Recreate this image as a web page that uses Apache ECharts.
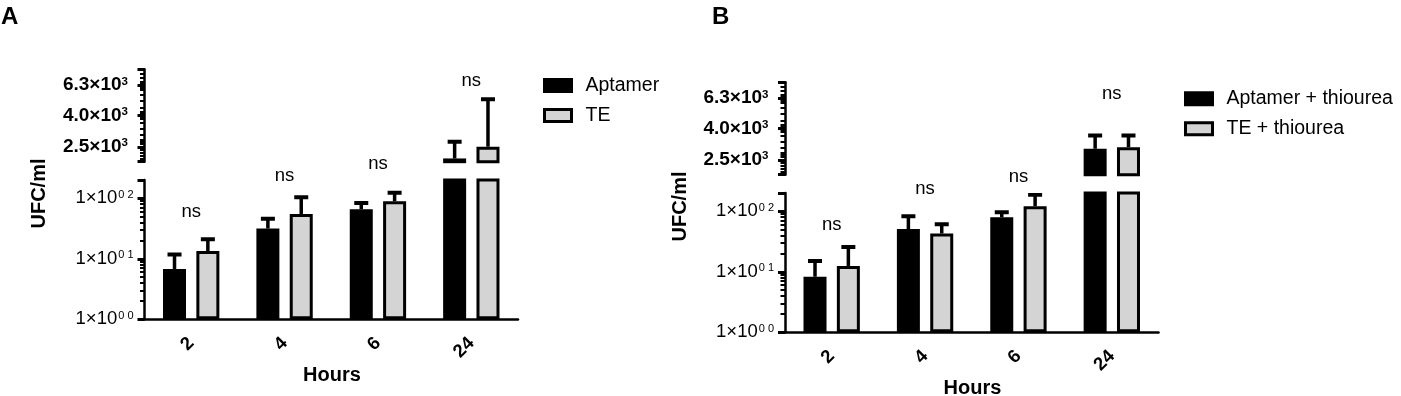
<!DOCTYPE html>
<html><head><meta charset="utf-8">
<script src="https://cdn.jsdelivr.net/npm/echarts@6/dist/echarts.min.js"></script>
<style>html,body{margin:0;padding:0;background:#fff}#c{width:1401px;height:396px}</style>
</head><body><div id="c"></div>
<script>
// ---------- data ----------
const categories = ['2', '4', '6', '24'];
// Panel A (means and error-bar tops, UFC/ml)
const aptamerA    = [6.8, 31.6, 66, 2100];
const aptamerAErr = [11.8, 46, 83, 2700];
const teA         = [13.4, 54.7, 89, 2500];
const teAErr      = [21, 104, 123, 5100];
// Panel B
const aptamerB    = [8.3, 50.7, 79.4, 2950];
const aptamerBErr = [15, 82.5, 96, 3600];
const teB         = [12.4, 43, 121, 3020];
const teBErr      = [25.7, 61, 187, 3600];
// "ns" annotation heights (data units)
const nsLevels = [60, 230, 370, 6700];
// axis segments
const lowerRange = [1, 200];
const upperRange = [2000, 8000];
const lowerTickValues = [1, 10, 100];
const lowerTickSup = ['0 0', '0 1', '0 2'];
const lowerMinorTicks = [2, 3, 4, 5, 6, 7, 8, 9, 20, 30, 40, 50, 60, 70, 80, 90];
const upperTickValues = [2500, 4000, 6300];
const upperTickMantissa = ['2.5', '4.0', '6.3'];
const upperMinorTicks = [2100, 2200, 2300, 2400, 2600, 2700, 2800, 3000, 3300, 3600, 3800, 3900, 4100, 4200, 4500, 5000, 5500, 5900, 6000, 6100, 6200, 6400, 6500, 6600, 7000, 7500];
const legendA = ['Aptamer', 'TE'];
const legendB = ['Aptamer + thiourea', 'TE + thiourea'];

// ---------- style / layout ----------
const FONT = '"Liberation Sans", Arial, sans-serif';
const COLORS = ['#000000', '#d4d4d4'];
const BAR_W = 23, BAR_GAP = 0.45;
const HALF_PITCH = (BAR_W + BAR_W * BAR_GAP) / 2;
const AXIS_X = 144.5, AXIS_W = 373.5;
const LOWER_TOP = 180, LOWER_H = 139.3, UPPER_TOP = 69.3, UPPER_H = 92.4;

const panels = [
  { names: legendA, vals: [aptamerA, teA], errs: [aptamerAErr, teAErr], dx: 0, dy: 0, letter: 'A', letterX: 1,
    legendLeft: 543, legendTop: 75.5 },
  { names: legendB, vals: [aptamerB, teB], errs: [aptamerBErr, teBErr], dx: 640.5, dy: 13, letter: 'B', letterX: 712,
    legendLeft: 1184, legendTop: 88.7 }
];

function idxOf(list, v) {
  for (let i = 0; i < list.length; i++) {
    if (Math.abs(Math.log10(v) - Math.log10(list[i])) < 1e-4) return i;
  }
  return -1;
}

const grid = [], xAxis = [], yAxis = [], series = [], legend = [], graphic = [];
const minorAxes = [];

panels.forEach((p, pi) => {
  [0, 1].forEach(seg => {
    const g = pi * 2 + seg;
    const lower = seg === 0;
    grid.push({
      left: AXIS_X + p.dx, width: AXIS_W,
      top: (lower ? LOWER_TOP : UPPER_TOP) + p.dy,
      height: lower ? LOWER_H : UPPER_H
    });
    xAxis.push({
      type: 'category', gridIndex: g, data: categories, show: lower,
      axisLine: { onZero: false, lineStyle: { color: '#000', width: 2.5 } },
      axisTick: { alignWithLabel: true, length: 7, lineStyle: { color: '#000', width: 2.5 } },
      axisLabel: { rotate: 45, margin: 21, fontSize: 18.5, fontWeight: 'bold', color: '#000', fontFamily: FONT },
      splitLine: { show: false }
    });
    const range = lower ? lowerRange : upperRange;
    yAxis.push({
      type: 'log', logBase: 10, gridIndex: g, position: 'left',
      min: range[0], max: range[1],
      axisLine: { show: true, onZero: false, lineStyle: { color: '#000', width: 2.5 } },
      axisTick: {
        show: true, length: 7, lineStyle: { color: '#000', width: 3 },
        customValues: lower ? lowerTickValues.concat([lowerRange[1]]) : upperTickValues.concat(upperRange)
      },
      axisLabel: {
        show: true,
        customValues: lower ? lowerTickValues : upperTickValues,
        margin: lower ? 11 : 16.5,
        formatter: v => {
          if (lower) {
            const i = idxOf(lowerTickValues, v);
            return i < 0 ? '' : '{m|1×10}{s|' + lowerTickSup[i] + '}';
          }
          const i = idxOf(upperTickValues, v);
          return i < 0 ? '' : '{m|' + upperTickMantissa[i] + '×10}{s|3}';
        },
        rich: lower ? {
          m: { fontSize: 18.5, fontFamily: FONT, color: '#000', lineHeight: 18 },
          s: { fontSize: 11, fontFamily: FONT, color: '#000', verticalAlign: 'top', lineHeight: 11, padding: [0, 0, 0, 1] }
        } : {
          m: { fontSize: 19, fontWeight: 'bold', fontFamily: FONT, color: '#000', lineHeight: 19 },
          s: { fontSize: 11.5, fontWeight: 'bold', fontFamily: FONT, color: '#000', verticalAlign: 'top', lineHeight: 11 }
        }
      },
      splitLine: { show: false }
    });
    minorAxes.push({
      type: 'log', logBase: 10, gridIndex: g, position: 'left',
      min: range[0], max: range[1],
      axisLine: { show: false },
      axisLabel: { show: false },
      axisTick: { show: true, length: 4.5, lineStyle: { color: '#000', width: 2 },
        customValues: lower ? lowerMinorTicks : upperMinorTicks },
      splitLine: { show: false }
    });

    // bars
    [0, 1].forEach(k => {
      series.push({
        type: 'bar', name: p.names[k], xAxisIndex: g, yAxisIndex: g,
        data: p.vals[k], barWidth: BAR_W, barGap: (BAR_GAP * 100) + '%',
        clip: true, silent: true, animation: false, z: 2,
        itemStyle: { color: COLORS[k], borderColor: '#000', borderWidth: 3 }
      });
    });
    // error bars
    const errData = [];
    [0, 1].forEach(k => {
      p.vals[k].forEach((v, i) => errData.push([i, v, p.errs[k][i], k === 0 ? -1 : 1]));
    });
    series.push({
      type: 'custom', xAxisIndex: g, yAxisIndex: g, clip: true, silent: true, animation: false, z: 3,
      data: errData, encode: { x: 0, y: 1 },
      renderItem: (params, api) => {
        const cat = api.value(0), v = api.value(1), top = api.value(2), side = api.value(3);
        const b = api.coord([cat, v]);
        const t = api.coord([cat, top]);
        const x = b[0] + side * HALF_PITCH;
        return {
          type: 'group', children: [
            { type: 'line', shape: { x1: x, y1: b[1], x2: x, y2: t[1] }, style: { stroke: '#000', lineWidth: 3.5 } },
            { type: 'line', shape: { x1: x - 7, y1: t[1], x2: x + 7, y2: t[1] }, style: { stroke: '#000', lineWidth: 4 } }
          ]
        };
      }
    });
    // ns labels
    const nsData = [];
    categories.forEach((c, i) => {
      const segOf = Math.max(p.errs[0][i], p.errs[1][i]) > lowerRange[1] ? 1 : 0;
      if (segOf === seg) nsData.push([i, nsLevels[i]]);
    });
    series.push({
      type: 'custom', xAxisIndex: g, yAxisIndex: g, clip: false, silent: true, animation: false, z: 4,
      data: nsData, encode: { x: 0, y: 1 },
      renderItem: (params, api) => {
        const pt = api.coord([api.value(0), api.value(1)]);
        return {
          type: 'text', x: pt[0], y: pt[1],
          style: { text: 'ns', fill: '#000', fontSize: 18.5, fontFamily: FONT, align: 'center', verticalAlign: 'middle' }
        };
      }
    });
  });

  legend.push({
    data: p.names, orient: 'vertical', left: p.legendLeft, top: p.legendTop, padding: 0,
    icon: 'rect', itemWidth: 27, itemHeight: 12, itemGap: 10,
    itemStyle: { borderWidth: 3, borderColor: '#000' },
    textStyle: { fontSize: 19.5, fontFamily: FONT, color: '#000', padding: [0, 0, 0, 9] },
    selectedMode: false
  });

  graphic.push({
    type: 'text', left: p.letterX, top: 5,
    style: { text: p.letter, fontSize: 24, fontWeight: 'bold', fontFamily: FONT, fill: '#000' }
  });
  graphic.push({
    type: 'text', x: 39.5 + p.dx, y: 193.5 + p.dy, rotation: Math.PI / 2,
    style: { text: 'UFC/ml', fontSize: 20, fontWeight: 'bold', fontFamily: FONT, fill: '#000', align: 'center', verticalAlign: 'middle' }
  });
  graphic.push({
    type: 'text', x: 332 + p.dx, y: 375.7 + p.dy,
    style: { text: 'Hours', fontSize: 20, fontWeight: 'bold', fontFamily: FONT, fill: '#000', align: 'center', verticalAlign: 'middle' }
  });
});

const chart = echarts.init(document.getElementById('c'), null, { renderer: 'canvas' });
chart.setOption({
  animation: false,
  backgroundColor: '#fff',
  grid, xAxis, yAxis: yAxis.concat(minorAxes), series, legend, graphic
});
</script>
</body></html>
